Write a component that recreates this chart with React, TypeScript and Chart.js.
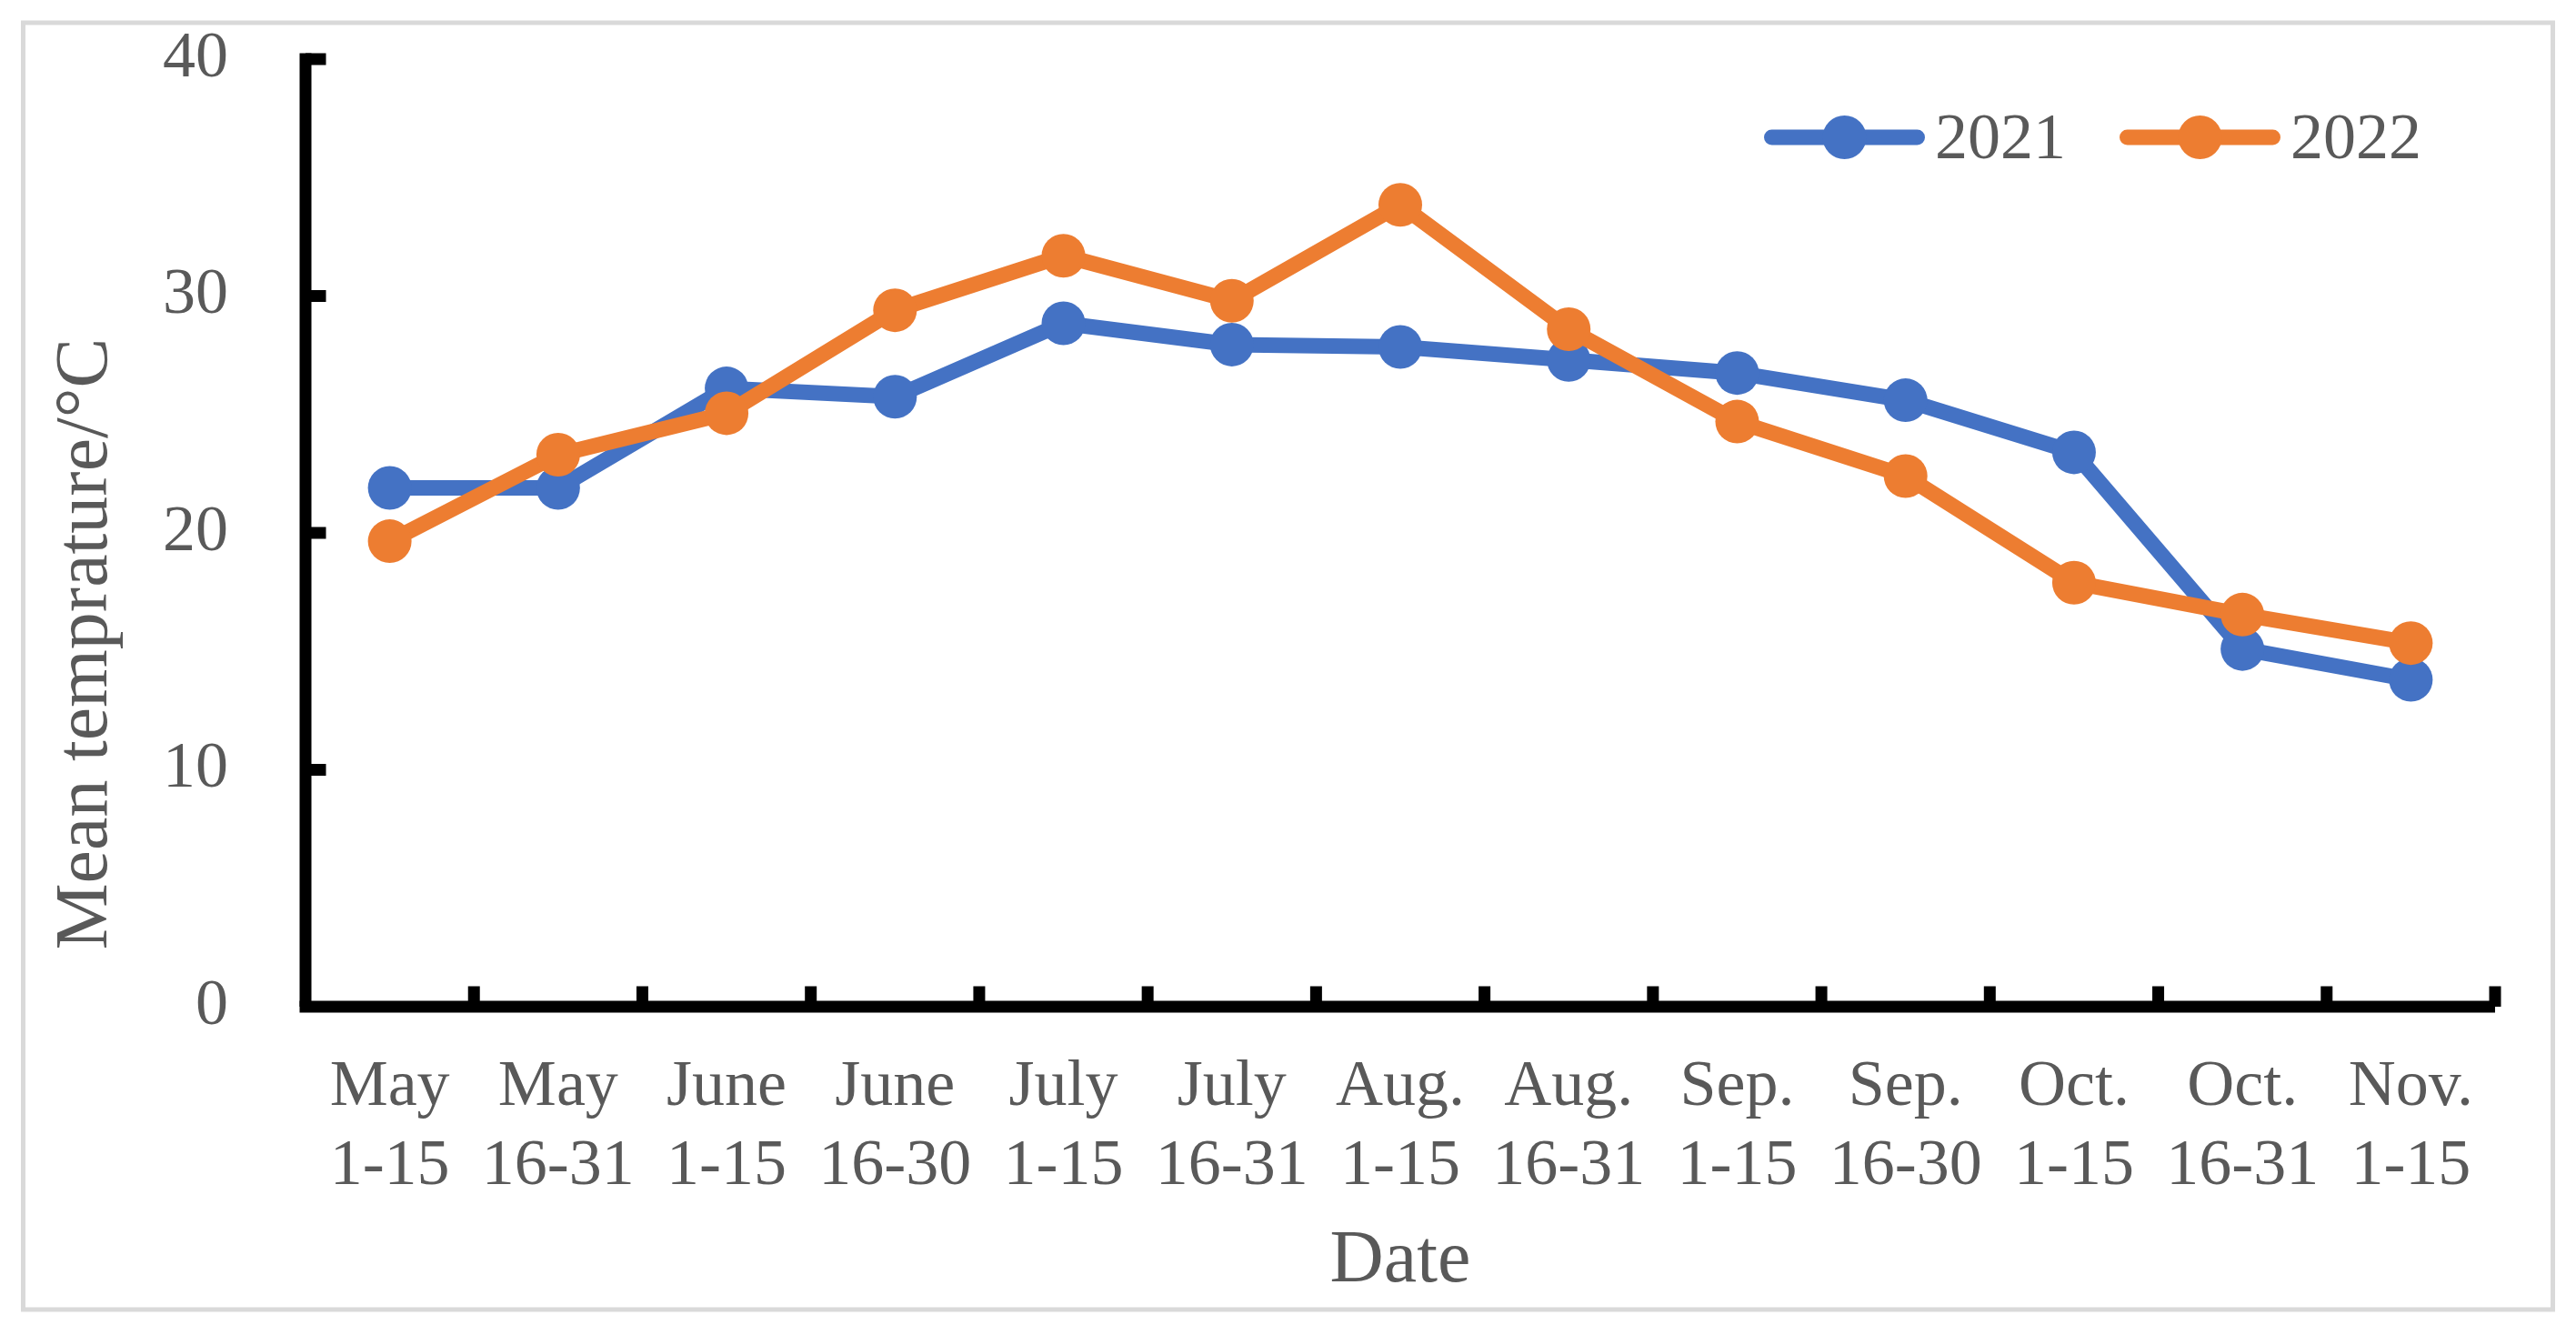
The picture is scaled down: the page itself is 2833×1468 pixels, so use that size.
import React, { useEffect, useRef } from "react";
import { Chart, registerables } from "chart.js";

Chart.register(...registerables);

// ---- data ----
const categories: string[][] = [
  ["May", "1-15"],
  ["May", "16-31"],
  ["June", "1-15"],
  ["June", "16-30"],
  ["July", "1-15"],
  ["July", "16-31"],
  ["Aug.", "1-15"],
  ["Aug.", "16-31"],
  ["Sep.", "1-15"],
  ["Sep.", "16-30"],
  ["Oct.", "1-15"],
  ["Oct.", "16-31"],
  ["Nov.", "1-15"],
];
const series2021 = [21.9, 21.9, 26.1, 25.75, 28.85, 27.95, 27.85, 27.3, 26.75, 25.6, 23.4, 15.1, 13.8];
const series2022 = [19.65, 23.3, 25.05, 29.4, 31.7, 29.8, 33.85, 28.6, 24.7, 22.4, 17.9, 16.55, 15.35];
const seriesLabels = ["2021", "2022"];
const yTicks = [0, 10, 20, 30, 40];
const yTitle = "Mean temprature/°C";
const xTitle = "Date";

// ---- style ----
const W = 2833;
const H = 1468;
const BLUE = "#4472C4";
const ORANGE = "#ED7D31";
const TEXT = "#595959";
const FONT = "'Liberation Serif', 'Times New Roman', serif";
const TICK_SIZE = 72;
const TITLE_SIZE = 82;
const AXIS_W = 13;
const TICK_LEN = 16;
const PLOT_TOP = 65;
const PLOT_BOTTOM = 1107;
const PLOT_LEFT = 336;
const PLOT_RIGHT = 2744;

const decorPlugin = {
  id: "decor",
  beforeDraw(chart: any) {
    const ctx = chart.ctx;
    ctx.save();
    ctx.fillStyle = "#ffffff";
    ctx.fillRect(0, 0, chart.width, chart.height);
    ctx.strokeStyle = "#d9d9d9";
    ctx.lineWidth = 5;
    ctx.strokeRect(25.5, 25, 2782, 1415);
    ctx.restore();
  },
  beforeDatasetsDraw(chart: any) {
    const ctx = chart.ctx;
    const xs = chart.scales.x;
    const ys = chart.scales.y;
    const left = xs.getPixelForValue(-0.5);
    const right = xs.getPixelForValue(categories.length - 0.5);
    const top = ys.getPixelForValue(yTicks[yTicks.length - 1]);
    const bottom = ys.getPixelForValue(yTicks[0]);
    ctx.save();
    ctx.fillStyle = "#000000";
    // y axis line
    ctx.fillRect(left - AXIS_W / 2, top - AXIS_W / 2, AXIS_W, bottom - top + AXIS_W / 2);
    // x axis line
    ctx.fillRect(left - AXIS_W / 2, bottom - AXIS_W / 2, right - left + AXIS_W / 2, AXIS_W);
    // y ticks (inward)
    yTicks.forEach((v) => {
      if (v === yTicks[0]) return;
      const py = ys.getPixelForValue(v);
      ctx.fillRect(left, py - AXIS_W / 2, AXIS_W / 2 + TICK_LEN, AXIS_W);
    });
    // x ticks at category boundaries (inward)
    for (let i = 1; i <= categories.length; i++) {
      const px = xs.getPixelForValue(i - 0.5);
      ctx.fillRect(px - AXIS_W / 2, bottom - AXIS_W / 2 - TICK_LEN, AXIS_W, TICK_LEN + AXIS_W / 2);
    }
    ctx.restore();
  },
  afterDraw(chart: any) {
    const ctx = chart.ctx;
    const area = chart.chartArea;
    ctx.save();
    ctx.fillStyle = TEXT;
    // y title
    ctx.font = `${TITLE_SIZE}px ${FONT}`;
    ctx.textAlign = "center";
    ctx.textBaseline = "alphabetic";
    ctx.save();
    ctx.translate(117, 708);
    ctx.rotate(-Math.PI / 2);
    ctx.fillText(yTitle, 0, 0);
    ctx.restore();
    // x title
    ctx.fillText(xTitle, (area.left + area.right) / 2, 1409);

    // legend
    const colors = [BLUE, ORANGE];
    const items = [1940, 2331];
    const legendY = 151;
    const lineLen = 177;
    ctx.font = `${TICK_SIZE}px ${FONT}`;
    ctx.textAlign = "left";
    items.forEach((lx, i) => {
      ctx.strokeStyle = colors[i];
      ctx.lineWidth = 17;
      ctx.lineCap = "round";
      ctx.beginPath();
      ctx.moveTo(lx + 8.5, legendY);
      ctx.lineTo(lx + lineLen - 8.5, legendY);
      ctx.stroke();
      ctx.fillStyle = colors[i];
      ctx.beginPath();
      ctx.arc(lx + lineLen / 2, legendY, 24, 0, Math.PI * 2);
      ctx.fill();
      ctx.fillStyle = TEXT;
      ctx.fillText(seriesLabels[i], lx + lineLen + 11, 174);
    });
    ctx.restore();
  },
};

export default function App() {
  const ref = useRef<HTMLCanvasElement | null>(null);

  useEffect(() => {
    document.body.style.margin = "0";
    const canvas = ref.current;
    if (!canvas) return;
    const chart = new Chart(canvas, {
      type: "line",
      data: {
        labels: categories,
        datasets: [
          {
            label: seriesLabels[0],
            data: series2021,
            borderColor: BLUE,
            backgroundColor: BLUE,
            borderWidth: 17,
            pointRadius: 24,
            pointHoverRadius: 24,
            pointBorderWidth: 0,
            pointBackgroundColor: BLUE,
            tension: 0,
            order: 1,
            clip: false,
          },
          {
            label: seriesLabels[1],
            data: series2022,
            borderColor: ORANGE,
            backgroundColor: ORANGE,
            borderWidth: 17,
            pointRadius: 24,
            pointHoverRadius: 24,
            pointBorderWidth: 0,
            pointBackgroundColor: ORANGE,
            tension: 0,
            order: 0,
            clip: false,
          },
        ],
      },
      options: {
        responsive: false,
        animation: false,
        events: [],
        layout: { padding: { top: PLOT_TOP, right: W - PLOT_RIGHT, left: 0, bottom: 0 } },
        plugins: {
          legend: { display: false },
          tooltip: { enabled: false },
          title: { display: false },
        },
        scales: {
          x: {
            type: "category",
            offset: true,
            grid: { display: false, drawTicks: false, offset: true },
            border: { display: false },
            ticks: {
              color: TEXT,
              font: { family: FONT, size: TICK_SIZE, lineHeight: 1.208 },
              padding: 46,
              maxRotation: 0,
              minRotation: 0,
              autoSkip: false,
            },
            afterFit: (s: any) => {
              s.height = H - PLOT_BOTTOM;
              s.paddingLeft = 0;
              s.paddingRight = 0;
              s.paddingTop = 0;
              s.paddingBottom = 0;
            },
          },
          y: {
            type: "linear",
            min: yTicks[0],
            max: yTicks[yTicks.length - 1],
            grid: { display: false, drawTicks: false },
            border: { display: false },
            ticks: {
              color: TEXT,
              font: { family: FONT, size: TICK_SIZE },
              padding: 85,
            },
            afterBuildTicks: (s: any) => {
              s.ticks = yTicks.map((v) => ({ value: v }));
            },
            afterFit: (s: any) => {
              s.width = PLOT_LEFT;
              s.paddingTop = 0;
              s.paddingBottom = 0;
              s.paddingLeft = 0;
              s.paddingRight = 0;
            },
          },
        },
      },
      plugins: [decorPlugin],
    });
    return () => chart.destroy();
  }, []);

  return (
    <div style={{ position: "absolute", left: 0, top: 0, width: W, height: H, background: "#fff" }}>
      <canvas ref={ref} width={W} height={H} style={{ width: W, height: H, display: "block" }} />
    </div>
  );
}
